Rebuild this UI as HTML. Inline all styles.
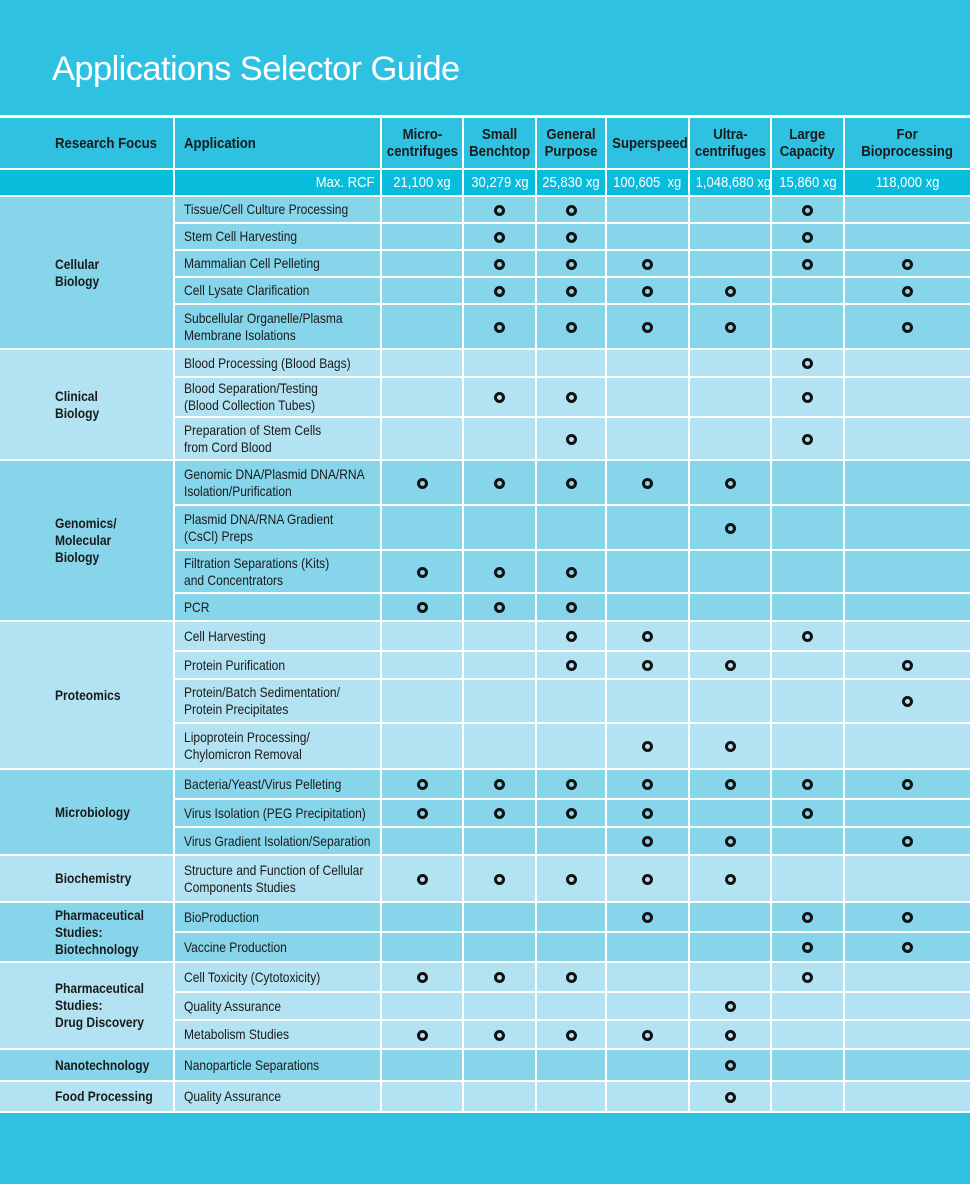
<!DOCTYPE html>
<html><head><meta charset="utf-8"><style>
body{margin:0;width:970px;height:1184px;background:#2ec1e1;font-family:"Liberation Sans",sans-serif;position:relative;overflow:hidden}
h1{position:absolute;left:52px;top:50px;margin:0;font-weight:normal;font-size:34.5px;color:#fff;letter-spacing:-0.6px}
.topline{position:absolute;left:0;top:115px;width:970px;height:2px;background:#fff}
table{position:absolute;left:0;top:116px;border-collapse:collapse;width:970px;table-layout:fixed;color:#1a1a1a;font-size:14px}
td{border:2px solid #fff;padding:0;line-height:17px;white-space:nowrap;overflow:visible}
td span.t{display:inline-block;transform:scaleX(0.86);transform-origin:left center}
td.c span.t,tr.h td span.t,tr.r td span.t{transform-origin:center center}
tr.h td span.t{transform:scaleX(0.88)}
tr.h td{background:#2ec1e1;font-weight:bold;text-align:center;height:50px;font-size:15px}
tr.r td{background:#08bcdc;color:#fff;text-align:center;height:25px;font-size:15px}
tr.r td span.t{transform:scaleX(0.87)}
td.f{font-weight:bold;padding-left:55px;text-align:left!important}
td.f span.t,td.a span.t{transform-origin:left center!important}
td.a{padding-left:9px;text-align:left!important}
.d td{background:#86d5eb}.l td{background:#b3e3f2}
td.c{text-align:center}
.o{display:inline-block;width:5px;height:5px;border:3px solid #111;border-radius:50%;vertical-align:middle}
td:first-child{border-left:none}td:last-child{border-right:none}
</style></head><body>
<h1>Applications Selector Guide</h1>
<div class="topline"></div>
<table id="t">
<colgroup><col style="width:174px"><col style="width:207px"><col style="width:82px"><col style="width:73px"><col style="width:70px"><col style="width:83px"><col style="width:82px"><col style="width:73px"><col style="width:126px"></colgroup>
<tr class="h"><td class="f"><span class="t">Research Focus</span></td><td class="a"><span class="t">Application</span></td><td><span class="t">Micro-<br>centrifuges</span></td><td><span class="t">Small<br>Benchtop</span></td><td><span class="t">General<br>Purpose</span></td><td><span class="t">Superspeed</span></td><td><span class="t">Ultra-<br>centrifuges</span></td><td><span class="t">Large<br>Capacity</span></td><td><span class="t">For<br>Bioprocessing</span></td></tr>
<tr class="r"><td></td><td style="text-align:right;padding-right:6px"><span class="t" style="transform-origin:right center">Max. RCF</span></td><td><span class="t">21,100 xg</span></td><td><span class="t">30,279 xg</span></td><td><span class="t">25,830 xg</span></td><td><span class="t">100,605&nbsp; xg</span></td><td><span class="t">1,048,680 xg</span></td><td><span class="t">15,860 xg</span></td><td><span class="t">118,000 xg</span></td></tr>
</table>
<script>
var S=[
["d","Cellular<br>Biology",[["Tissue/Cell Culture Processing",27,"0110010"],["Stem Cell Harvesting",27,"0110010"],["Mammalian Cell Pelleting",27,"0111011"],["Cell Lysate Clarification",27,"0111101"],["Subcellular Organelle/Plasma<br>Membrane Isolations",45,"0111101"]]],
["l","Clinical<br>Biology",[["Blood Processing (Blood Bags)",28,"0000010"],["Blood Separation/Testing<br>(Blood Collection Tubes)",40,"0110010"],["Preparation of Stem Cells<br>from Cord Blood",43,"0010010"]]],
["d","Genomics/<br>Molecular<br>Biology",[["Genomic DNA/Plasmid DNA/RNA<br>Isolation/Purification",45,"1111100"],["Plasmid DNA/RNA Gradient<br>(CsCl) Preps",45,"0000100"],["Filtration Separations (Kits)<br>and Concentrators",43,"1110000"],["PCR",28,"1110000"]]],
["l","Proteomics",[["Cell Harvesting",30,"0011010"],["Protein Purification",28,"0011101"],["Protein/Batch Sedimentation/<br>Protein Precipitates",44,"0000001"],["Lipoprotein Processing/<br>Chylomicron Removal",46,"0001100"]]],
["d","Microbiology",[["Bacteria/Yeast/Virus Pelleting",30,"1111111"],["Virus Isolation (PEG Precipitation)",28,"1111010"],["Virus Gradient Isolation/Separation",28,"0001101"]]],
["l","Biochemistry",[["Structure and Function of Cellular<br>Components Studies",47,"1111100"]]],
["d","Pharmaceutical<br>Studies:<br>Biotechnology",[["BioProduction",30,"0001011"],["Vaccine Production",30,"0000011"]]],
["l","Pharmaceutical<br>Studies:<br>Drug Discovery",[["Cell Toxicity (Cytotoxicity)",30,"1110010"],["Quality Assurance",28,"0000100"],["Metabolism Studies",29,"1111100"]]],
["d","Nanotechnology",[["Nanoparticle Separations",32,"0000100"]]],
["l","Food Processing",[["Quality Assurance",31,"0000100"]]]];
var h="";
S.forEach(function(s){s[2].forEach(function(r,i){h+='<tr class="'+s[0]+'" style="height:'+r[1]+'px">';
if(i==0)h+='<td class="f" rowspan="'+s[2].length+'"><span class="t">'+s[1]+'</span></td>';
h+='<td class="a"><span class="t">'+r[0]+'</span></td>';
for(var k=0;k<7;k++)h+='<td class="c">'+(r[2][k]=="1"?'<span class="o"></span>':'')+'</td>';
h+='</tr>';});});
document.getElementById("t").insertAdjacentHTML("beforeend",h);
</script>
</body></html>
